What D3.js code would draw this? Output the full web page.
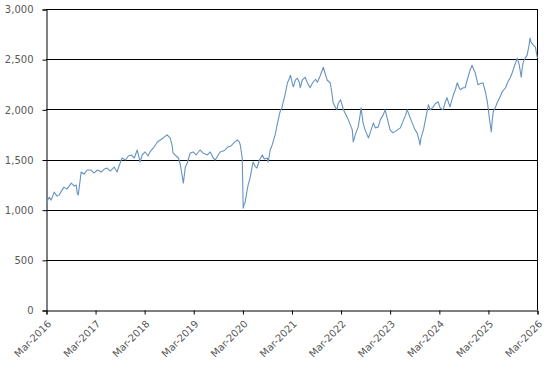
<!DOCTYPE html>
<html lang="en">
<head>
    <meta charset="UTF-8">
    <title>Index chart</title>
    <script src="https://d3js.org/d3.v7.min.js"></script>
    <style>
        body {
            margin: 0;
            background-color: #ffffff;
        }

        svg {
            display: block;
        }

        .tick-label {
            font-family: 'DejaVu Sans', Verdana, sans-serif;
            font-size: 10px;
            fill: #595959;
        }
    </style>
</head>
<body>
    <svg id="chart" width="547" height="379"></svg>

    <script>
        // dates as decimal years
        const years = [
            2016.17, 2016.23, 2016.27, 2016.33, 2016.39, 2016.43, 2016.49, 2016.53, 2016.59, 2016.68,
            2016.74, 2016.78, 2016.80, 2016.82, 2016.86, 2016.88, 2016.94, 2017.00, 2017.08, 2017.14,
            2017.21, 2017.29, 2017.35, 2017.41, 2017.47, 2017.55, 2017.61, 2017.65, 2017.71, 2017.78,
            2017.84, 2017.90, 2017.96, 2018.02, 2018.08, 2018.12, 2018.18, 2018.24, 2018.28, 2018.35,
            2018.43, 2018.49, 2018.55, 2018.63, 2018.69, 2018.73, 2018.75, 2018.79, 2018.86, 2018.90,
            2018.96, 2019.00, 2019.04, 2019.10, 2019.16, 2019.22, 2019.30, 2019.36, 2019.45, 2019.51,
            2019.57, 2019.61, 2019.67, 2019.71, 2019.77, 2019.81, 2019.87, 2019.93, 2019.99, 2020.06,
            2020.10, 2020.12, 2020.16, 2020.18, 2020.20, 2020.22, 2020.26, 2020.28, 2020.32, 2020.38,
            2020.42, 2020.46, 2020.51, 2020.57, 2020.61, 2020.67, 2020.69, 2020.73, 2020.77, 2020.83,
            2020.87, 2020.93, 2020.97, 2020.99, 2021.03, 2021.08, 2021.12, 2021.14, 2021.18, 2021.20,
            2021.24, 2021.28, 2021.32, 2021.34, 2021.38, 2021.44, 2021.48, 2021.54, 2021.58, 2021.60,
            2021.65, 2021.69, 2021.75, 2021.81, 2021.85, 2021.89, 2021.95, 2021.99, 2022.01, 2022.05,
            2022.09, 2022.11, 2022.16, 2022.20, 2022.22, 2022.28, 2022.32, 2022.36, 2022.40, 2022.42,
            2022.46, 2022.52, 2022.56, 2022.58, 2022.62, 2022.66, 2022.73, 2022.77, 2022.83, 2022.87,
            2022.93, 2022.97, 2023.03, 2023.07, 2023.13, 2023.17, 2023.23, 2023.32, 2023.38, 2023.42,
            2023.48, 2023.52, 2023.58, 2023.62, 2023.68, 2023.72, 2023.76, 2023.78, 2023.80, 2023.85,
            2023.91, 2023.95, 2023.99, 2024.05, 2024.09, 2024.15, 2024.19, 2024.25, 2024.29, 2024.33,
            2024.37, 2024.39, 2024.46, 2024.50, 2024.54, 2024.58, 2024.60, 2024.66, 2024.70, 2024.74,
            2024.80, 2024.84, 2024.88, 2024.90, 2024.94, 2024.96, 2025.00, 2025.06, 2025.11, 2025.15,
            2025.19, 2025.23, 2025.25, 2025.27, 2025.31, 2025.35, 2025.41, 2025.45, 2025.52, 2025.56,
            2025.62, 2025.66, 2025.70, 2025.76, 2025.80, 2025.84, 2025.86, 2025.88, 2025.92, 2025.96,
            2026.00, 2026.02, 2026.04, 2026.09, 2026.13, 2026.15, 2026.17
        ];

        const values = [
            1065, 1125, 1095, 1175, 1135, 1145, 1195, 1225, 1205, 1265,
            1235, 1245, 1165, 1145, 1295, 1375, 1355, 1395, 1395, 1365,
            1395, 1375, 1405, 1415, 1385, 1425, 1375, 1435, 1515, 1495,
            1535, 1545, 1515, 1595, 1475, 1545, 1575, 1535, 1575, 1615,
            1675, 1695, 1715, 1745, 1715, 1645, 1565, 1545, 1515, 1445,
            1265, 1425, 1465, 1565, 1575, 1545, 1595, 1565, 1545, 1575,
            1515, 1495, 1545, 1575, 1585, 1595, 1625, 1635, 1665, 1695,
            1675, 1645, 1515, 1015, 1055, 1075, 1195, 1245, 1315, 1475,
            1435, 1415, 1495, 1545, 1505, 1515, 1475, 1595, 1645, 1745,
            1845, 1975, 2015, 2065, 2145, 2265, 2310, 2340, 2255, 2225,
            2290, 2310, 2270, 2215, 2290, 2320, 2270, 2215, 2255, 2270,
            2300, 2270, 2340, 2420, 2350, 2290, 2265, 2145, 2065, 2025,
            1995, 2055, 2095, 2035, 1995, 1935, 1895, 1845, 1795, 1675,
            1745, 1825, 1945, 2015, 1865, 1795, 1715, 1775, 1865, 1815,
            1825, 1895, 1945, 1995, 1875, 1795, 1765, 1795, 1815, 1865,
            1935, 1995, 1915, 1865, 1795, 1765, 1695, 1645, 1715, 1795,
            1945, 2045, 1995, 2025, 2055, 2075, 2015, 1995, 2065, 2115,
            2055, 2025, 2145, 2195, 2265, 2215, 2195, 2215, 2215, 2290,
            2390, 2440, 2390, 2370, 2290, 2245, 2255, 2265, 2175, 2075,
            1915, 1775, 1895, 1975, 2015, 2065, 2125, 2175, 2215, 2265,
            2320, 2370, 2430, 2510, 2440, 2320, 2410, 2470, 2510, 2540,
            2640, 2710, 2670, 2640, 2620, 2560, 2510
        ];

        const xTickYears = [2016, 2017, 2018, 2019, 2020, 2021, 2022, 2023, 2024, 2025, 2026];
        const yTicks = [0, 500, 1000, 1500, 2000, 2500, 3000];

        const width = 547;
        const height = 379;
        const margin = { top: 9, right: 10, bottom: 69, left: 46 };

        function yearToDate(y) {
            const whole = Math.floor(y);
            const start = Date.UTC(whole, 0, 1);
            return new Date(start + (y - whole) * 365.25 * 864e5);
        }

        const data = years.map((y, i) => ({ date: yearToDate(y), value: values[i] }));

        const svg = d3.select("#chart");

        const x = d3.scaleUtc()
            .domain([new Date(Date.UTC(2016, 2, 1)), new Date(Date.UTC(2026, 2, 1))])
            .range([margin.left, width - margin.right]);

        const y = d3.scaleLinear()
            .domain([0, 3000])
            .range([height - margin.bottom, margin.top]);

        // horizontal gridlines
        svg.append("g")
            .selectAll("line")
            .data(yTicks.slice(1))
            .enter()
            .append("line")
            .attr("x1", margin.left)
            .attr("x2", width - margin.right)
            .attr("y1", d => Math.round(y(d)) + 0.5)
            .attr("y2", d => Math.round(y(d)) + 0.5)
            .style("stroke", "#000")
            .style("stroke-width", 1);

        // right border
        svg.append("line")
            .attr("x1", width - margin.right + 0.5)
            .attr("x2", width - margin.right + 0.5)
            .attr("y1", margin.top)
            .attr("y2", height - margin.bottom)
            .style("stroke", "#000");

        // y axis
        const yAxis = svg.append("g")
            .attr("transform", `translate(${margin.left + 0.5},0.5)`)
            .call(d3.axisLeft(y).tickValues(yTicks).tickSize(4).tickFormat(d3.format(",")));
        yAxis.select(".domain").style("stroke", "#000");
        yAxis.selectAll(".tick line").style("stroke", "#000");
        yAxis.selectAll(".tick text")
            .attr("class", "tick-label")
            .attr("x", -13)
            .attr("font-family", null)
            .attr("font-size", null);

        // x axis
        const xTickDates = xTickYears.map(yr => new Date(Date.UTC(yr, 2, 1)));
        const xAxis = svg.append("g")
            .attr("transform", `translate(0.5,${height - margin.bottom + 0.5})`)
            .call(d3.axisBottom(x).tickValues(xTickDates).tickSize(4).tickFormat(d3.utcFormat("%b-%Y")));
        xAxis.select(".domain").style("stroke", "#000");
        xAxis.selectAll(".tick line").style("stroke", "#000");
        xAxis.selectAll(".tick text")
            .attr("class", "tick-label")
            .attr("font-family", null)
            .attr("font-size", null)
            .attr("text-anchor", "end")
            .attr("x", null)
            .attr("y", null)
            .attr("dy", null)
            .attr("transform", "translate(5,14) rotate(-45)");

        // series line
        const line = d3.line()
            .x(d => x(d.date))
            .y(d => y(d.value));

        svg.append("path")
            .datum(data)
            .attr("d", line)
            .style("fill", "none")
            .style("stroke", "#6693c2")
            .style("stroke-width", 1.1)
            .style("stroke-linejoin", "round");
    </script>
</body>
</html>
